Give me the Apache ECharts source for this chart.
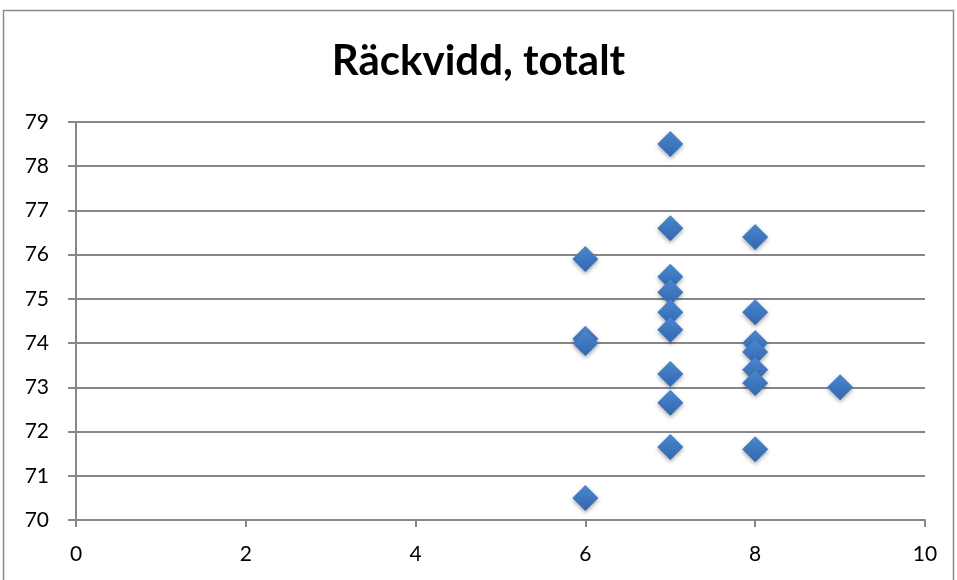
<!DOCTYPE html>
<html><head><meta charset="utf-8">
<script src="https://cdn.jsdelivr.net/npm/echarts@6/dist/echarts.min.js"></script>
<style>html,body{margin:0;padding:0;background:#fff}#c{width:957px;height:580px}</style>
</head><body><div id="c"></div>
<script>
const titleText = "Räckvidd, totalt";
const xValues = [6, 6, 6, 6, 7, 7, 7, 7, 7, 7, 7, 7, 7, 8, 8, 8, 8, 8, 8, 8, 9];
const yValues = [75.9, 74.1, 74.0, 70.5, 78.5, 76.6, 75.5, 75.15, 74.7, 74.3, 73.3, 72.65, 71.65, 76.4, 74.7, 74.0, 73.8, 73.4, 73.1, 71.6, 73.0];
const xTicks = [0, 2, 4, 6, 8, 10];
const yTicks = [70, 71, 72, 73, 74, 75, 76, 77, 78, 79];

const points = xValues.map((x, i) => [x, yValues[i]]);
const font = "Lato";
const chart = echarts.init(document.getElementById('c'));
chart.setOption({
  animation: false,
  backgroundColor: '#fff',
  title: { text: titleText, left: 'center', top: 35,
    textStyle: { fontFamily: font, fontWeight: 'bold', fontSize: 42, color: '#000' } },
  grid: { left: 76, right: 32, top: 122, bottom: 60 },
  xAxis: { type: 'value', min: xTicks[0], max: xTicks[xTicks.length - 1], interval: 2,
    axisLine: { show: true, lineStyle: { color: '#878787', width: 2 } },
    axisTick: { show: true, length: 7, lineStyle: { color: '#878787', width: 2 } },
    splitLine: { show: false },
    axisLabel: { color: '#000', fontSize: 21, fontFamily: font, margin: 24 } },
  yAxis: { type: 'value', min: yTicks[0], max: yTicks[yTicks.length - 1], interval: 1,
    axisLine: { show: true, lineStyle: { color: '#878787', width: 2 } },
    axisTick: { show: true, length: 8, lineStyle: { color: '#878787', width: 2 } },
    splitLine: { show: true, lineStyle: { color: '#878787', width: 2 } },
    axisLabel: { color: '#000', fontSize: 21, fontFamily: font, margin: 27 } },
  graphic: [{ type: 'rect', shape: { x: 3.5, y: 10.5, width: 950, height: 580 },
    style: { fill: 'none', stroke: '#8a8a8a', lineWidth: 1.5 }, silent: true }],
  series: [{ type: 'scatter', data: points, symbol: 'diamond', symbolSize: [26, 26],
    itemStyle: { opacity: 1, color: new echarts.graphic.LinearGradient(0, 0, 0, 1, [
        { offset: 0, color: '#4a86cf' }, { offset: 1, color: '#3268ad' }]),
      shadowColor: 'rgba(0,0,0,0.35)', shadowBlur: 4, shadowOffsetY: 2 } }]
});
</script></body></html>
